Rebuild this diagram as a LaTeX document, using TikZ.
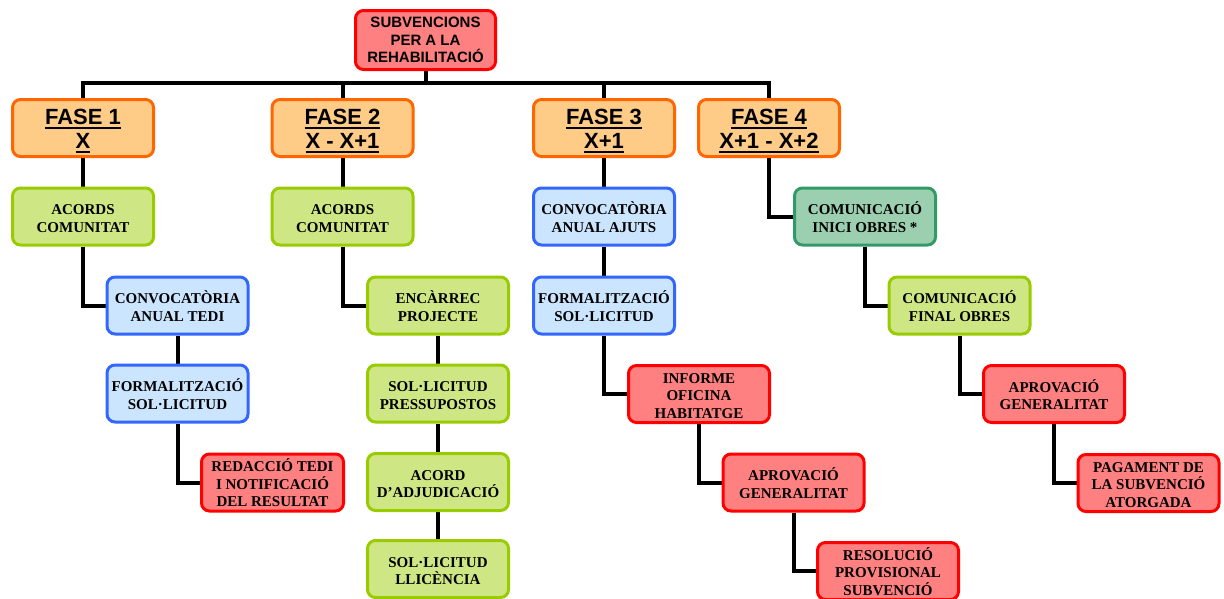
\documentclass[tikz,border=0pt]{standalone}
\usepackage{fontspec}
\setmainfont{Liberation Serif}
\newfontfamily\arialf{Liberation Sans}
\usetikzlibrary{backgrounds}
\definecolor{redL}{HTML}{FF8080}
\definecolor{redD}{HTML}{FF0000}
\definecolor{orL}{HTML}{FFCC88}
\definecolor{orD}{HTML}{FF6600}
\definecolor{grL}{HTML}{CFE685}
\definecolor{grD}{HTML}{99CC00}
\definecolor{blL}{HTML}{CCE5FF}
\definecolor{blD}{HTML}{3366FF}
\definecolor{tlL}{HTML}{9CCFB0}
\definecolor{tlD}{HTML}{339966}
\newcommand\ulx[1]{\setbox0\hbox{#1}\rlap{\rule[-4.5pt]{\wd0}{2pt}}\box0}
\newcommand\tallx{\rule{0pt}{22pt}}
\newcommand\lowx{\rule{0pt}{14pt}}
\begin{document}
\begin{tikzpicture}[x=1pt,y=-1pt,
  bx/.style={draw, line width=3pt, rounded corners=8pt, minimum width=141pt, minimum height=57pt,
    align=center, inner sep=0pt, font=\fontsize{15}{17.5}\selectfont\bfseries},
  redb/.style={bx, draw=redD, fill=redL},
  grb/.style={bx, draw=grD, fill=grL},
  blb/.style={bx, draw=blD, fill=blL},
  tlb/.style={bx, draw=tlD, fill=tlL},
  fase/.style={bx, draw=orD, fill=orL, font=\arialf\fontsize{22}{24}\selectfont\bfseries},
  conn/.style={line width=4pt, black}]
\useasboundingbox (0,0) rectangle (1224,598);
\clip (0,0) rectangle (1224,598);
% root
\node[redb, minimum width=140pt, minimum height=59pt, font=\arialf\fontsize{15}{17.5}\selectfont\bfseries] (root) at (425.5,40) {SUBVENCIONS\\PER A LA\\REHABILITACIÓ};
% phases
\node[fase] (f1) at (83,128) {\tallx\ulx{FASE 1}\\\ulx{X}};
\node[fase] (f2) at (342.5,128) {\tallx\ulx{FASE 2}\\\ulx{X - X+1}};
\node[fase] (f3) at (604,128) {\tallx\ulx{FASE 3}\\\ulx{X+1}};
\node[fase] (f4) at (769,128) {\tallx\ulx{FASE 4}\\\ulx{X+1 - X+2}};
% row 2
\node[grb] (a1) at (83,216.5) {\lowx ACORDS\\COMUNITAT};
\node[grb] (a2) at (342.5,216.5) {\lowx ACORDS\\COMUNITAT};
\node[blb] (c3) at (604,216.5) {\lowx CONVOCATÒRIA\\ANUAL AJUTS};
\node[tlb] (ci4) at (865,216.5) {\lowx COMUNICACIÓ\\INICI OBRES *};
% row 3
\node[blb] (cv1) at (177.5,305.5) {\lowx CONVOCATÒRIA\\ANUAL TEDI};
\node[grb] (ep2) at (438,305.5) {\lowx ENCÀRREC\\PROJECTE};
\node[blb] (fs3) at (604,305.5) {\lowx FORMALITZACIÓ\\SOL·LICITUD};
\node[grb] (cf4) at (959.5,305.5) {\lowx COMUNICACIÓ\\FINAL OBRES};
% row 4
\node[blb] (fm1) at (177.5,393.5) {\lowx FORMALITZACIÓ\\SOL·LICITUD};
\node[grb] (sp2) at (438,393.5) {\lowx SOL·LICITUD\\PRESSUPOSTOS};
\node[redb] (io3) at (699,394) {\lowx INFORME\\OFICINA\\HABITATGE};
\node[redb] (ag4) at (1054,394) {\lowx APROVACIÓ\\GENERALITAT};
% row 5
\node[redb, minimum width=142pt] (rt1) at (272.5,482.5) {\lowx REDACCIÓ TEDI\\I NOTIFICACIÓ\\DEL RESULTAT};
\node[grb] (ad2) at (438,482) {\lowx ACORD\\D’ADJUDICACIÓ};
\node[redb] (ag3) at (793.5,482.5) {\lowx APROVACIÓ\\GENERALITAT};
\node[redb] (pg4) at (1148.5,483) {\lowx PAGAMENT DE\\LA SUBVENCIÓ\\ATORGADA};
% row 6
\node[grb] (ll2) at (438,569) {\lowx SOL·LICITUD\\LLICÈNCIA};
\node[redb] (rp3) at (888,571) {\lowx RESOLUCIÓ\\PROVISIONAL\\SUBVENCIÓ};
% connectors
\coordinate (bar) at (425.5,83);
\begin{scope}[on background layer]
\draw[conn] (root) -- (bar);
\draw[conn] (f1) |- (bar) -- (bar -| f4) -- (f4);
\draw[conn] (f2) -- (f2 |- bar);
\draw[conn] (f3) -- (f3 |- bar);
\draw[conn] (f1) -- (a1);
\draw[conn] (a1) |- (cv1);
\draw[conn] (cv1) -- (fm1);
\draw[conn] (fm1) |- (rt1);
\draw[conn] (f2) -- (a2);
\draw[conn] (a2) |- (ep2);
\draw[conn] (ep2) -- (sp2);
\draw[conn] (sp2) -- (ad2);
\draw[conn] (ad2) -- (ll2);
\draw[conn] (f3) -- (c3);
\draw[conn] (c3) -- (fs3);
\draw[conn] (fs3) |- (io3);
\draw[conn] (io3) |- (ag3);
\draw[conn] (ag3) |- (rp3);
\draw[conn] (f4) |- (ci4);
\draw[conn] (ci4) |- (cf4);
\draw[conn] (cf4) |- (ag4);
\draw[conn] (ag4) |- (pg4);
\end{scope}
\end{tikzpicture}
\end{document}
